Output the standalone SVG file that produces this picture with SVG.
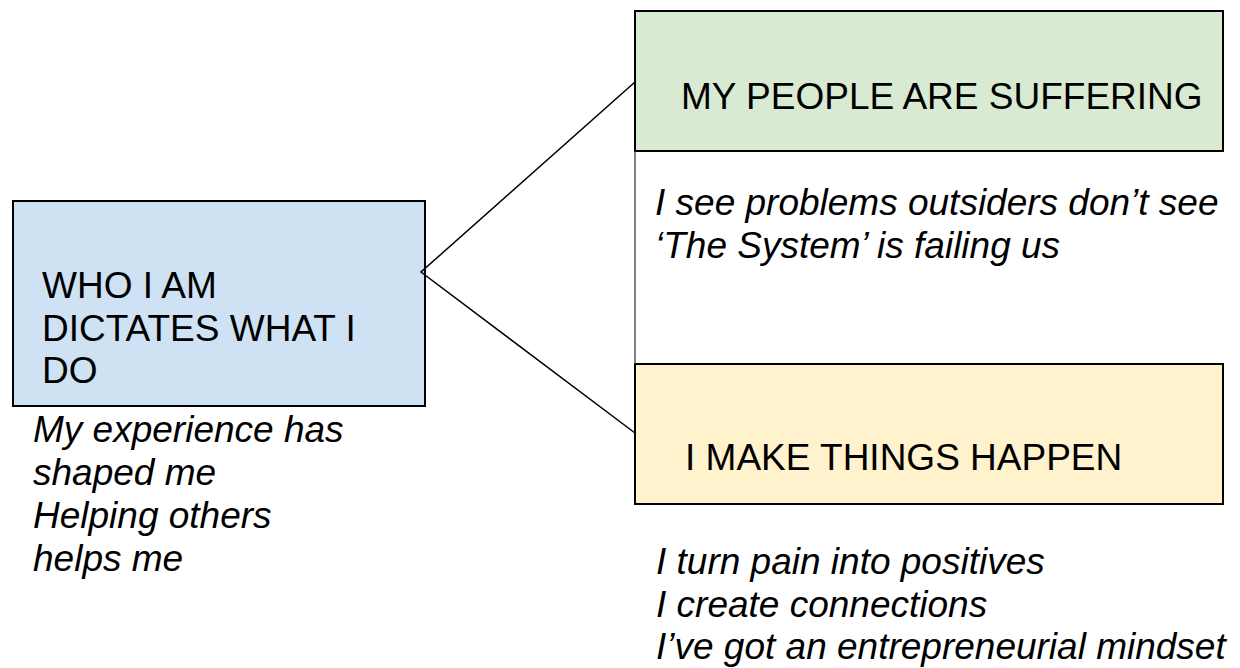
<svg xmlns="http://www.w3.org/2000/svg" width="1240" height="668" viewBox="0 0 1240 668">
  <style>
    .box { stroke: #000; stroke-width: 2; }
    .title { font-family: "Liberation Sans", Arial, sans-serif; font-size: 37px; fill: #000; }
    .note { font-family: "Liberation Sans", Arial, sans-serif; font-size: 37px; font-style: italic; fill: #000; }
    .link { stroke: #000; stroke-width: 1.5; fill: none; }
  </style>
  <rect width="1240" height="668" fill="#fff"/>

  <!-- identity node -->
  <g id="node-who">
    <rect class="box" x="13" y="201" width="412" height="205" fill="#cfe2f3"/>
    <text class="title" x="42" y="298">WHO I AM</text>
    <text class="title" x="42" y="341">DICTATES WHAT I</text>
    <text class="title" x="42" y="383">DO</text>
    <text class="note" x="33" y="442">My experience has</text>
    <text class="note" x="33" y="485">shaped me</text>
    <text class="note" x="33" y="528">Helping others</text>
    <text class="note" x="33" y="571">helps me</text>
  </g>

  <!-- suffering node -->
  <g id="node-suffering">
    <rect class="box" x="635" y="11" width="588" height="140" fill="#d9ead3"/>
    <text class="title" x="681" y="109">MY PEOPLE ARE SUFFERING</text>
    <text class="note" x="655" y="215">I see problems outsiders don’t see</text>
    <text class="note" x="655" y="258">‘The System’ is failing us</text>
  </g>

  <!-- action node -->
  <g id="node-happen">
    <rect class="box" x="635" y="364" width="588" height="140" fill="#fff2cc"/>
    <text class="title" x="685" y="470">I MAKE THINGS HAPPEN</text>
    <text class="note" x="656" y="574">I turn pain into positives</text>
    <text class="note" x="656" y="617">I create connections</text>
    <text class="note" x="656" y="659">I’ve got an entrepreneurial mindset</text>
  </g>

  <!-- connectors, drawn over the boxes so the fork apex shows -->
  <g id="connectors">
    <polyline class="link" points="635,82 421,272 635,433"/>
    <line x1="635" y1="151" x2="635" y2="364" stroke="#333" stroke-width="1.2"/>
  </g>
</svg>
